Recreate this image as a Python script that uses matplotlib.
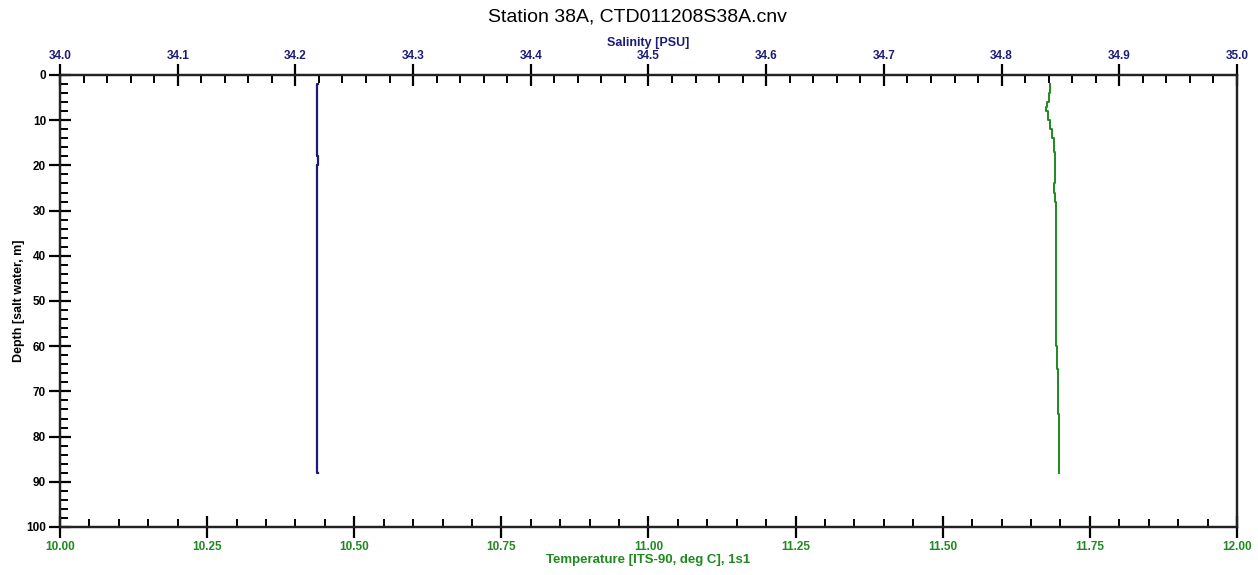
import matplotlib
matplotlib.use('Agg')
import matplotlib.pyplot as plt
from matplotlib.ticker import MultipleLocator, FormatStrFormatter

plt.rcParams['font.family'] = ['Liberation Sans', 'DejaVu Sans']

# CTD cast, station 38A
title = 'Station 38A, CTD011208S38A.cnv'
sal_label = 'Salinity [PSU]'
temp_label = 'Temperature [ITS-90, deg C], 1s1'
depth_label = 'Depth [salt water, m]'

# salinity profile (depth m, PSU)
sal_depth = [2, 4, 6, 8, 10, 12, 14, 16, 18, 20, 22, 24, 26, 28, 30, 32, 34, 36,
             38, 40, 42, 44, 46, 48, 50, 52, 54, 56, 58, 60, 62, 64, 66, 68, 70,
             72, 74, 76, 78, 80, 82, 84, 86, 88]
sal = [34.219, 34.217, 34.219, 34.218, 34.219, 34.218, 34.219, 34.218, 34.219,
       34.219, 34.218, 34.219, 34.218, 34.218, 34.219, 34.218, 34.219, 34.218,
       34.218, 34.219, 34.218, 34.218, 34.219, 34.218, 34.218, 34.219, 34.218,
       34.218, 34.219, 34.218, 34.218, 34.219, 34.218, 34.218, 34.218, 34.219,
       34.218, 34.218, 34.219, 34.218, 34.219, 34.218, 34.218, 34.219]

# temperature profile (depth m, deg C)
temp_depth = [2, 4, 6, 7, 8, 10, 12, 14, 17, 20, 22, 24, 26, 27, 28, 35, 50,
              60, 63, 65, 73, 75, 80, 85, 88]
temp = [11.683, 11.682, 11.678, 11.675, 11.677, 11.680, 11.685, 11.688, 11.690,
        11.690, 11.691, 11.689, 11.690, 11.690, 11.693, 11.693, 11.693, 11.693,
        11.694, 11.695, 11.695, 11.697, 11.698, 11.697, 11.697]

navy = '#1c1c78'
green = '#1f8a1f'

fig = plt.figure(figsize=(12.58, 5.75), dpi=100)
ax = fig.add_axes([0.0477, 0.0835, 0.9356, 0.7861])
ax2 = ax.twiny()

ax.plot(temp, temp_depth, color=green, lw=1.4, drawstyle='steps-mid')
ax2.plot(sal, sal_depth, color=navy, lw=1.6, drawstyle='steps-mid')

ax.set_xlim(10.0, 12.0)
ax2.set_xlim(34.0, 35.0)
ax.set_ylim(100, 0)

ax.xaxis.set_major_locator(MultipleLocator(0.25))
ax.xaxis.set_minor_locator(MultipleLocator(0.05))
ax.xaxis.set_major_formatter(FormatStrFormatter('%.2f'))
ax2.xaxis.set_major_locator(MultipleLocator(0.1))
ax2.xaxis.set_minor_locator(MultipleLocator(0.02))
ax2.xaxis.set_major_formatter(FormatStrFormatter('%.1f'))
ax.yaxis.set_major_locator(MultipleLocator(10))
ax.yaxis.set_minor_locator(MultipleLocator(2))

for a in (ax, ax2):
    for s in a.spines.values():
        s.set_linewidth(1.6)
        s.set_color('#222222')

ax.tick_params(axis='x', which='major', direction='inout', length=16, width=1.6,
               labelsize=8.5, labelcolor=green, pad=2)
ax.tick_params(axis='x', which='minor', direction='in', length=6, width=1.4)
ax.tick_params(axis='y', which='major', direction='inout', length=16, width=1.6,
               labelsize=8.5, pad=2)
ax.tick_params(axis='y', which='minor', direction='in', length=6, width=1.4)
ax2.tick_params(axis='x', which='major', direction='inout', length=16, width=1.6,
                labelsize=8.5, labelcolor=navy, pad=1)
ax2.tick_params(axis='x', which='minor', direction='in', length=6, width=1.4)

for lab in ax.get_xticklabels() + ax.get_yticklabels() + ax2.get_xticklabels():
    lab.set_fontweight('bold')

ax.set_xlabel(temp_label, color=green, fontsize=9.5, fontweight='bold', labelpad=1)
ax.set_ylabel(depth_label, fontsize=9, fontweight='bold', labelpad=1)
fig.text(0.5155, 0.926, sal_label, ha='center', va='center', color=navy,
         fontsize=9, fontweight='bold')
fig.text(0.507, 0.970, title, ha='center', va='center', fontsize=14)

fig.savefig('out.png', dpi=100)
